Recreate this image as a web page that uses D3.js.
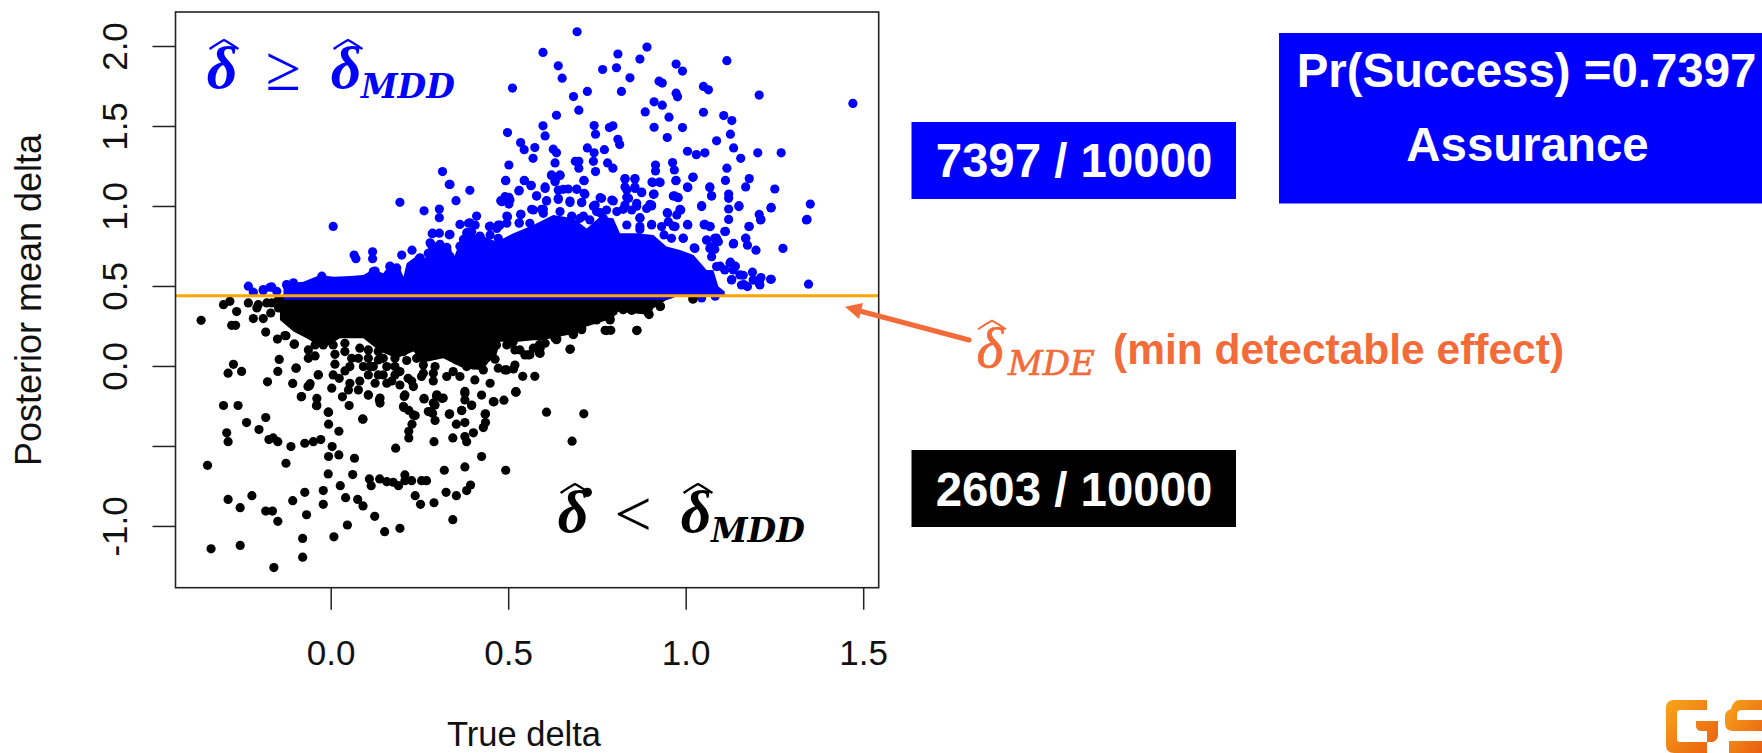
<!DOCTYPE html>
<html>
<head>
<meta charset="utf-8">
<script src="https://cdn.jsdelivr.net/npm/d3@7"></script>
<style>
  body { margin: 0; background: #fff; }
  text { font-family: "Liberation Sans", Arial, sans-serif; }
  .math { font-family: "Liberation Serif", serif; font-style: italic; }
  .mathSub { font-family: "DejaVu Serif", serif; font-style: italic; }
</style>
</head>
<body>
<div id="canvas"></div>
<script>
// values: [true delta, posterior mean delta]
var bluePoints = [
  [.694,2.089],[.598,1.960],[.641,1.876],[.652,1.799],[.512,1.737],[.809,1.950],[.891,1.993],[.871,1.918],
  [.766,1.853],[.805,1.864],[.843,1.801],[.819,1.716],[.723,1.716],[.684,1.684],[.699,1.599],[.636,1.567],
  [.598,1.501],[.604,1.438],[.498,1.459],[.535,1.396],[.545,1.352],[.575,1.365],[.570,1.298],[.502,1.256],
  [.627,1.355],[.636,1.332],[.632,1.269],[.742,1.503],[.746,1.449],[.785,1.490],[.795,1.501],[.809,1.417],
  [.814,1.384],[.723,1.363],[.742,1.332],[.771,1.352],[.689,1.279],[.699,1.279],[.699,1.236],[.740,1.279],
  [.780,1.269],[.795,1.236],[.746,1.215],[.622,1.194],[.646,1.194],[.632,1.160],[.713,1.160],[.493,1.160],
  [.545,1.160],[.565,1.129],[.531,1.098],[.392,1.098],[.353,1.033],[.336,1.135],[.604,1.119],[.580,1.064],
  [.608,1.033],[.502,1.054],[.479,1.033],[.502,1.012],[.829,1.171],[.857,1.171],[.829,1.119],[.857,1.119],
  [.876,1.087],[.834,1.054],[.911,1.075],[.905,1.150],[.926,1.150],[.915,1.256],[.915,1.219],[.963,1.271],
  [.968,1.225],[.973,1.160],[1.021,1.181],[1.005,1.119],[.968,1.064],[.977,1.054],[.911,1.492],[.886,1.588],
  [.911,1.651],[.934,1.630],[.953,1.555],[.948,1.428],[.991,1.490],[1.005,1.342],[1.030,1.321],[1.054,1.332],
  [1.087,1.407],[1.050,1.586],[.973,1.705],[.977,1.682],[.925,1.780],[.934,1.768],[.973,1.887],[.991,1.843],
  [1.050,1.747],[1.064,1.726],[1.116,1.908],[1.207,1.693],[1.471,1.641],[1.107,1.565],[1.130,1.534],[1.126,1.449],
  [1.135,1.363],[1.155,1.298],[1.203,1.332],[1.269,1.332],[1.116,1.236],[1.112,1.160],[1.179,1.171],[1.169,1.119],
  [1.251,1.106],[1.068,1.119],[1.073,1.064],[1.121,1.075],[1.121,1.048],[1.045,1.002],[1.121,.981],[1.150,1.002],
  [1.241,.991],[1.351,1.012],[1.342,.916],[1.207,.947],[1.212,.916],[1.121,.916],[1.179,.872],[1.112,.841],
  [1.169,.799],[1.174,.755],[1.198,.724],[1.274,.735],[1.135,.766],[1.005,.885],[1.054,.885],[1.068,.872],
  [1.059,.787],[1.087,.799],[1.078,.749],[1.346,.511],[1.241,.542],[1.188,.586],[1.212,.553],[1.164,.509],
  [1.207,.515],[1.126,.649],[1.140,.624],[1.162,.567],[1.130,.540],[1.097,.624],[.993,.799],[1.024,.739],
  [.984,.979],[.948,.958],[.965,.874],[.904,1.000],[.871,.927],[.904,.885],[.871,.853],[.411,.937],
  [.364,.885],[.449,.874],[.392,.895],[.496,.937],[.535,.947],[.531,.895],[.566,.979],[.599,.979],
  [.674,1.031],[.707,1.021],[.655,1.104],[.693,1.104],[.716,1.073],[.641,1.041],[.759,1.052],[.796,1.031],
  [.740,.999],[.862,.999],[.899,1.010],[.824,.979],[.712,.937],[.679,.937],[.759,.958],[.472,.874],
  [.383,.833],[.374,.791],[.420,.812],[.336,.822],[.315,1.215],[.334,1.135],[.195,1.023],[.263,.970],
  [.306,.981],[.306,.927],[.007,.872],[.287,.830],[.306,.830],[.334,.820],[.066,.693],[.071,.670],
  [.118,.714],[.118,.670],[.200,.693],[.229,.724],[.280,.770],[.308,.760],[.289,.707],[.327,.728],
  [.336,.686],[.402,.791],[.364,.749],[.252,.676],[.167,.624],[.186,.613],[.125,.593],[-.025,.561],
  [-.124,.509],[-.105,.520],[-.232,.499],[-.218,.461],[-.190,.478],[-.166,.494],[-.152,.467],[1.045,.425],
  [1.083,.436]
];

// second pass over the crowded part above the mass
var blueCrowded = [
  [.493,1.158],[.546,1.158],[.564,1.127],[.622,1.190],[.646,1.190],[.632,1.152],[.714,1.158],[.530,1.094],
  [.491,1.058],[.482,1.027],[.505,1.037],[.580,1.062],[.604,1.110],[.608,1.031],[.641,1.100],[.669,1.106],
  [.693,1.106],[.714,1.079],[.641,1.048],[.674,1.021],[.707,1.021],[.571,.975],[.594,.979],[.536,.948],
  [.498,.933],[.531,.892],[.496,.892],[.477,.881],[.447,.871],[.468,.860],[.745,1.006],[.763,1.048],
  [.792,1.037],[.749,.965],[.777,.975],[.806,.965],[.829,1.169],[.857,1.169],[.834,1.100],[.857,1.110],
  [.876,1.083],[.839,1.048],[.829,1.006],[.862,1.017],[.904,1.006],[.909,1.073],[.907,1.146],[.928,1.146],
  [.972,1.158],[1.020,1.179],[1.006,1.115],[.965,1.062],[.979,1.052],[1.045,.996],[1.068,1.115],[1.073,1.062],
  [.986,.975],[.949,.954],[.975,.944],[.890,.985],[.848,.975],[.871,.923],[.904,.881],[.871,.871],
  [.951,.902],[.932,.871],[.970,.871],[1.006,.881],[1.052,.885],[1.069,.871],[.993,.798],[.960,.798],
  [.939,.819],[1.059,.787],[1.083,.798],[1.068,.735],[1.026,.735],[.702,.923],[.679,.933],[.646,.965],
  [.599,.954],[.561,.892],[.730,.913],[.768,.923],[.834,.881],[.388,.892],[.407,.881],[.472,.881],
  [.286,.827],[.282,.762],[.327,.742],[.275,.704],[.250,.673],[.120,.590],[.167,.621],[-.171,.492],
  [-.190,.471],[-.124,.506],[.379,.787],[.397,.840],[.421,.808],[.449,.819],[.472,.798],[1.073,.683],
  [1.087,.621],[1.110,.600],[1.125,.642],[1.134,.600],[1.153,.569],[1.129,.538],[1.157,.506],[1.174,.496],
  [1.209,.506],[1.209,.542],[1.239,.542],[1.190,.537],[1.082,.798],[1.092,.777],[1.082,.729],[1.110,.840],
  [1.134,.763],[1.169,.798],[1.178,.871],[1.211,.913],[1.240,.988],[1.340,.913],[1.053,.881],[1.150,.996]
];

var blackPoints = [
  [-.365,.285],[-.302,.383],[-.284,.404],[-.265,.340],[-.279,.254],[-.268,.254],[-.232,.394],[-.218,.296],
  [-.190,.296],[-.208,.363],[-.183,.212],[-.169,.331],[-.180,.394],[-.150,.168],[-.126,.189],[-.102,.137],
  [-.145,.041],[-.149,-.034],[-.097,-.013],[-.274,.010],[-.289,-.045],[-.251,-.034],[-.178,-.099],[-.107,-.109],
  [-.064,-.128],[-.058,-.111],[-.035,-.055],[-.083,-.193],[-.039,-.203],[-.039,-.247],[-.302,-.247],[-.261,-.247],
  [-.183,-.322],[-.237,-.354],[-.202,-.397],[-.293,-.418],[-.289,-.473],[-.174,-.460],[-.162,-.450],[-.149,-.473],
  [-.112,-.504],[-.073,-.483],[-.049,-.473],[-.028,-.460],[-.006,-.289],[-.006,-.364],[.023,-.408],[.004,-.504],
  [-.006,-.566],[.023,-.556],[.067,-.577],[-.126,-.608],[-.347,-.621],[-.007,-.675],[.062,-.679],[.027,-.748],
  [-.021,-.779],[-.073,-.790],[-.107,-.842],[-.222,-.811],[-.289,-.834],[-.255,-.886],[-.183,-.907],[-.164,-.907],
  [-.149,-.971],[-.068,-.930],[-.021,-.865],[.042,-.823],[.076,-.834],[.091,-.875],[.124,-.940],[.047,-.994],
  [.009,-1.068],[-.079,-1.078],[-.079,-1.195],[-.160,-1.260],[-.255,-1.122],[-.337,-1.143],[.152,-1.036],[.195,-1.015],
  [.344,-.961],[.109,-.706],[.114,-.748],[.138,-.706],[.158,-.723],[.176,-.727],[.191,-.748],[.209,-.681],
  [.209,-.717],[.228,-.717],[.256,-.717],[.270,-.717],[.238,-.811],[.253,-.865],[.291,-.855],[.325,-.790],
  [.354,-.811],[.383,-.779],[.394,-.744],[.320,-.652],[.378,-.631],[.425,-.566],[.183,-.514],[.291,-.473],
  [.344,-.450],[.378,-.441],[.383,-.473],[.402,-.418],[.430,-.385],[.436,-.354],[.436,-.299],[.460,-.224],
  [.425,-.182],[.397,-.247],[.369,-.278],[.335,-.299],[.354,-.364],[.378,-.354],[.220,-.450],[.220,-.408],
  [.229,-.364],[.238,-.310],[.220,-.278],[.205,-.253],[.287,-.295],[.294,-.341],[.275,-.285],[.289,-.232],
  [.299,-.180],[.317,-.201],[.263,-.203],[.378,-.159],[.378,-.212],[.091,-.333],[.139,-.201],[.139,-.232],
  [.052,-.247],[.033,-.193],[.106,-.182],[.207,-.191],[.713,-.299],[.608,-.289],[.680,-.470],
  [.493,-.652],[.723,-.790],[.863,.223],[.773,.223],[.789,.223],[.675,.106],[.541,-.065],[.575,-.065],
  [.522,-.161],[.488,-.214],[.561,.070],[.588,.081],[.588,.133],[.636,.164],[.683,.196],[.707,.227],
  [.787,.294],[.824,.352],[.848,.348],[.897,.321],[.929,.373],[1.021,.419],[.796,.342]
];

// second pass over the crowded part under the mass
var blackCrowded = [
  [-.129,.190],[-.103,.136],[-.063,.100],[-.063,.048],[-.044,.063],[.012,.073],[.012,.011],[.040,-.031],
  [.078,.048],[.092,-.004],[.120,-.004],[.158,-.004],[.195,-.035],[.214,.034],[.134,-.056],[.082,-.094],
  [.054,-.108],[.024,-.077],[.003,-.139],[.050,-.150],[.078,-.150],[.106,-.181],[.125,-.108],[.158,-.108],
  [.172,-.094],[.195,-.119],[.228,-.094],[.256,-.066],[.289,-.094],[.294,-.004],[.261,.006],[.327,-.066],
  [.345,-.035],[.364,-.066],[.406,-.087],[.449,-.108],[.430,-.025],[.472,-.014],[.496,-.025],[.463,.042],
  [.522,-.164],[.378,-.171],[.458,-.223],[-.098,-.014],[-.035,-.056],[-.060,-.123],[-.082,-.191],[-.040,-.248],
  [.137,-.212],[.263,-.206],[.298,-.191],[.209,-.181],[.233,-.129],[.397,-.244],[.334,-.302],[.369,-.279],
  [-.007,-.289],[.090,-.331],[.206,-.260],[.233,-.306],[.280,-.285],[.294,-.244],[.313,-.202],[.435,-.302],
  [.590,.111],[.590,.079],[.557,.069],[.519,.100],[.519,.006],[.491,-.025],[.515,-.019],[.521,-.162],
  [.674,.104],[.777,.221],[.862,.221],[.684,.198],[.637,.169],[.707,.236],[.749,.288],[.787,.288],
  [.820,.361],[.848,.350],[.895,.329],[.928,.371],[.871,.392],[1.020,.419],[-.147,.363],[-.124,.331],
  [-.147,.415],[-.114,.289],[-.204,.383],[-.166,.394],
  [.082,.111],[.106,.100],[.134,.090],[.106,.048],[.134,.038],[.111,-.004],[.148,.048],[.181,.100],
  [.181,.048],[.205,.090],[.181,-.004],[.242,.048],[.261,.048],[.247,.100],[.289,.079],[.327,.090],
  [.355,.079],[.355,.038],[.383,.059],[.402,.006],[.430,.027],[.449,.090],[.411,.100],[.467,.131],
  [.496,.131],[.514,.152],[.383,-.004],[-.021,.131],[-.044,.131],[.007,.131],[.040,.142],[.040,.090],
  [.059,.048],[.054,-.004],[.007,-.056],[.106,-.056],[.148,-.056],[.181,-.056],[.218,-.077],[.261,-.046],
  [.289,-.046],[.505,.142],[.533,.100],[.547,.069],[.571,.111],[.604,.142],[.632,.173],[.679,.215]
];

// where the dots overplot into a solid mass: upper edge of the blue, lower edge of the black
var blueMassEdge = [
  [-.133,.517],[-.077,.527],[-.030,.569],[.008,.558],[.055,.562],[.092,.569],[.120,.604],[.148,.579],
  [.167,.635],[.195,.610],[.205,.558],[.214,.642],[.242,.687],[.266,.673],[.280,.777],[.336,.756],
  [.346,.673],[.374,.829],[.421,.819],[.468,.777],[.515,.829],[.571,.881],[.627,.944],[.684,.923],
  [.721,.860],[.759,.933],[.796,.923],[.815,.829],[.862,.829],[.909,.819],[.946,.746],[.984,.725],
  [1.022,.694],[1.059,.600],[1.078,.600],[1.092,.496],[1.110,.465]
];
var blackMassEdge = [
  [-.143,.288],[-.105,.215],[-.068,.173],[-.021,.111],[.026,.173],[.092,.173],[.139,.090],[.186,.048],
  [.233,.090],[.270,.027],[.317,.048],[.374,-.014],[.421,-.025],[.467,.069],[.477,.152],[.520,.150],
  [.571,.160],[.599,.163],[.646,.184],[.693,.204],[.721,.246],[.796,.298],[.806,.340],[.900,.319],
  [.909,.361],[.946,.413],[.965,.427]
];

var xTickValues = [0, 0.5, 1, 1.5];
var yTickValues = [2, 1.5, 1, 0.5, 0, -0.5, -1];
var yTickLabels = ["2.0", "1.5", "1.0", "0.5", "0.0", "", "-1.0"];
var mdeCutoff = 0.439;

var svg = d3.select("#canvas").append("svg")
  .attr("width", 1762)
  .attr("height", 753)
  .style("display", "block");

// set the ranges
var x = d3.scaleLinear().domain([-0.4372, 1.5437]).range([175.5, 878.7]);
var y = d3.scaleLinear().domain([-1.386, 2.2125]).range([587.7, 12]);

function drawDots(data, color) {
  svg.append("g").selectAll("circle")
    .data(data)
    .enter().append("circle")
    .attr("cx", function(d) { return x(d[0]); })
    .attr("cy", function(d) { return y(d[1]); })
    .attr("r", 4.6)
    .attr("fill", color);
}

function drawMass(data, base, color) {
  var area = d3.area()
    .x(function(d) { return x(d[0]); })
    .y0(function(d) { return y(base(d)); })
    .y1(function(d) { return y(d[1]); });
  svg.append("path").attr("d", area(data)).attr("fill", color);
}

// black first, the blue dots sit on top of them
drawDots(blackPoints, "#000");
drawDots(blackCrowded, "#000");
drawMass(blackMassEdge, function() { return 0.44; }, "#000");
// the blue only spills under the cutoff line up to about 1.0
drawMass(blueMassEdge, function(d) { return d[0] < 0.98 ? 0.414 : 0.44; }, "#0000ff");
drawDots(bluePoints, "#0000ff");
drawDots(blueCrowded, "#0000ff");

svg.append("line")
  .attr("x1", 175.5).attr("x2", 878.7)
  .attr("y1", y(mdeCutoff)).attr("y2", y(mdeCutoff))
  .attr("stroke", "#ffa500").attr("stroke-width", 3);

// box and axes
svg.append("rect")
  .attr("x", 175.5).attr("y", 12)
  .attr("width", 703.2).attr("height", 575.7)
  .attr("fill", "none").attr("stroke", "#222").attr("stroke-width", 1.6);

var xAxis = svg.append("g")
  .attr("transform", "translate(0,587.7)")
  .call(d3.axisBottom(x).tickValues(xTickValues).tickSize(22).tickFormat(d3.format(".1f")));
xAxis.select(".domain").remove();
xAxis.selectAll("line").attr("stroke", "#222").attr("stroke-width", 1.5);
xAxis.selectAll("text")
  .attr("y", 77).attr("dy", 0)
  .style("font-size", "35px").attr("fill", "#111");

var yAxis = svg.append("g")
  .attr("transform", "translate(175.5,0)")
  .call(d3.axisLeft(y).tickValues(yTickValues).tickSize(23).tickFormat(function(d, i) { return yTickLabels[i]; }));
yAxis.select(".domain").remove();
yAxis.selectAll("line").attr("stroke", "#222").attr("stroke-width", 1.5);
yAxis.selectAll("text")
  .attr("x", 0).attr("dy", 0).attr("y", 0)
  .attr("text-anchor", "middle")
  .attr("transform", "translate(-48.5,0) rotate(-90)")
  .style("font-size", "35px").attr("fill", "#111");

svg.append("text")
  .attr("x", 524).attr("y", 745.5)
  .attr("text-anchor", "middle")
  .style("font-size", "34.5px").attr("fill", "#111")
  .text("True delta");

svg.append("text")
  .attr("transform", "translate(41,300) rotate(-90)")
  .attr("text-anchor", "middle")
  .style("font-size", "36px").attr("fill", "#111")
  .text("Posterior mean delta");

// a delta with a wide hat, the hat is not in the fonts
function drawDelta(cx, baseline, size, weight, color) {
  svg.append("text")
    .attr("class", "math")
    .attr("x", cx).attr("y", baseline)
    .attr("text-anchor", "middle")
    .style("font-size", size + "px").style("font-weight", weight)
    .attr("fill", color)
    .attr("stroke", weight === "bold" ? "none" : color)
    .attr("stroke-width", 0.7)
    .text("δ");
  var w = size * 0.24, top = baseline - size * 0.8;
  svg.append("path")
    .attr("d", "M" + (cx + 2 - w) + "," + (top + size * 0.15) + "Q" + (cx + 2 - w / 3) + "," + (top + size * 0.04) + " " + (cx + 2) + "," + top +
      "Q" + (cx + 2 + w / 3) + "," + (top + size * 0.04) + " " + (cx + 2 + w) + "," + (top + size * 0.15))
    .attr("fill", "none").attr("stroke", color).attr("stroke-width", weight === "bold" ? 2.4 : 2);
}

function drawSub(label, xPos, baseline, size, weight, color) {
  svg.append("text")
    .attr("class", "mathSub")
    .attr("x", xPos).attr("y", baseline)
    .style("font-size", size + "px").style("font-weight", weight)
    .attr("fill", color)
    .attr("stroke", weight === "bold" ? "none" : color)
    .attr("stroke-width", 0.7)
    .text(label);
}

function drawSign(sign, cx, baseline, size, color) {
  svg.append("text")
    .attr("x", cx).attr("y", baseline)
    .attr("text-anchor", "middle")
    .style("font-family", "'Liberation Serif', serif")
    .style("font-size", size + "px")
    .attr("fill", color)
    .text(sign);
}

drawDelta(222, 88, 60, "bold", "#0000ff");
drawSign("≥", 283, 90, 64, "#0000ff");
drawDelta(346, 88, 60, "bold", "#0000ff");
drawSub("MDD", 361, 98, 33, "bold", "#0000ff");

drawDelta(573, 532, 60, "bold", "#000");
drawSign("<", 633, 536, 66, "#000");
drawDelta(696, 532, 60, "bold", "#000");
drawSub("MDD", 711, 542, 33, "bold", "#000");

// arrow to the cutoff line
var mdeColor = "#f26b38";
svg.append("line")
  .attr("x1", 969).attr("y1", 340)
  .attr("x2", 858).attr("y2", 310.5)
  .attr("stroke", mdeColor).attr("stroke-width", 5).attr("stroke-linecap", "round");
svg.append("path")
  .attr("d", "M845,306.7L863,303L859,319Z")
  .attr("fill", mdeColor);

drawDelta(990, 367, 58, "normal", mdeColor);
drawSub("MDE", 1008, 375, 34, "normal", mdeColor);
svg.append("text")
  .attr("x", 1113).attr("y", 364)
  .style("font-size", "42.5px").style("font-weight", "bold")
  .attr("fill", mdeColor)
  .text("(min detectable effect)");

// result boxes
function drawBox(left, top, w, h, color) {
  svg.append("rect")
    .attr("x", left).attr("y", top)
    .attr("width", w).attr("height", h)
    .attr("fill", color);
}

function drawBoxText(label, cx, baseline) {
  svg.append("text")
    .attr("x", cx).attr("y", baseline)
    .attr("text-anchor", "middle")
    .style("font-size", "47.4px").style("font-weight", "bold")
    .attr("fill", "#fff")
    .text(label);
}

drawBox(911.5, 122, 324.5, 77, "#0000ff");
drawBoxText("7397 / 10000", 1074, 177);
drawBox(911.5, 450, 324.5, 77, "#000");
drawBoxText("2603 / 10000", 1074, 506);
drawBox(1279, 33, 483, 170.5, "#0000ff");
drawBoxText("Pr(Success) =0.7397", 1526.5, 87);
drawBoxText("Assurance", 1527.5, 161);

// logo, cut off by the page edge
var grad = svg.append("defs").append("linearGradient")
  .attr("id", "logoGrad")
  .attr("x1", 0).attr("y1", 0).attr("x2", 1).attr("y2", 1);
grad.append("stop").attr("offset", "0%").attr("stop-color", "#f8a51b");
grad.append("stop").attr("offset", "100%").attr("stop-color", "#e85e10");

svg.append("path")
  .attr("fill", "url(#logoGrad)")
  .attr("d", "M1674,700H1707V710H1680Q1677,710 1677,713V739Q1677,742 1680,742H1707V753H1674Q1666,753 1666,745V708Q1666,700 1674,700Z" +
    "M1696,721H1718V735Q1718,740 1713,742L1707,742V731H1702Q1696,731 1696,726Z");
svg.append("path")
  .attr("fill", "url(#logoGrad)")
  .attr("d", "M1740,700H1762V710H1742Q1737,710 1737,715V720H1762V731H1733Q1725,731 1725,723V716Q1725,711 1731,709Q1733,700 1740,700Z" +
    "M1729,741H1762V753H1729Z");
</script>
</body>
</html>
